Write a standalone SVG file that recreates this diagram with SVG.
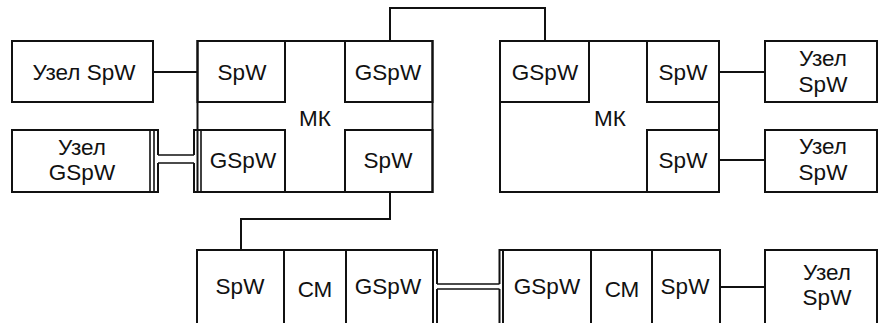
<svg xmlns="http://www.w3.org/2000/svg" width="879" height="323" viewBox="0 0 879 323">
<style>
.b{fill:none;stroke:#111;stroke-width:2}
.p{fill:none;stroke:#111;stroke-width:1.6}
.c{fill:none;stroke:#111;stroke-width:2}
text{font-family:"Liberation Sans",Arial,sans-serif;font-size:22.5px;fill:#111;text-anchor:middle}
</style>
<rect x="0" y="0" width="879" height="323" fill="#fff"/>
<g id="connectors">
<path class="c" d="M153 72H197.5"/>
<path class="c" d="M390 41V8H545V41"/>
<path class="c" d="M390 192V219H241V250"/>
<path class="c" d="M719 72H765"/>
<path class="c" d="M719 160H765"/>
<path class="c" d="M720 287H765"/>
<path class="p" d="M158 155H194M158 163H194"/>
<path class="p" d="M437 284H499.5M437 289H499.5"/>
</g>
<g id="node-uzel-spw-1">
<rect class="b" x="12" y="41" width="141" height="61"/>
<text x="84" y="80">Узел SpW</text>
</g>
<g id="node-uzel-gspw">
<path class="b" d="M158 155V130H12V192H158V163"/>
<path class="p" d="M150 130V192M154 130V192"/>
<text x="82" y="155">Узел</text>
<text x="82" y="180">GSpW</text>
</g>
<g id="node-mk-left">
<rect class="b" x="197.5" y="41" width="235" height="151"/>
<text x="315" y="126">МК</text>
</g>
<g id="port-l-spw-top">
<rect class="b" x="197.5" y="41" width="87.5" height="61"/>
<text x="242" y="80">SpW</text>
</g>
<g id="port-l-gspw-top">
<rect class="b" x="345" y="41" width="87.5" height="61"/>
<text x="388" y="80">GSpW</text>
</g>
<g id="port-l-gspw-bottom">
<path class="b" d="M194 155V130H285V192H194V163"/>
<path class="p" d="M201 130V192"/>
<text x="243" y="168">GSpW</text>
</g>
<g id="port-l-spw-bottom">
<rect class="b" x="345" y="130" width="87.5" height="62"/>
<text x="388" y="168">SpW</text>
</g>
<g id="node-mk-right">
<rect class="b" x="500" y="41" width="219" height="151"/>
<text x="610" y="126">МК</text>
</g>
<g id="port-r-gspw">
<rect class="b" x="500" y="41" width="89" height="61"/>
<text x="545" y="80">GSpW</text>
</g>
<g id="port-r-spw-top">
<rect class="b" x="647" y="41" width="72" height="61"/>
<text x="683" y="80">SpW</text>
</g>
<g id="port-r-spw-bottom">
<rect class="b" x="647" y="130" width="72" height="62"/>
<text x="683" y="168">SpW</text>
</g>
<g id="node-uzel-spw-2">
<rect class="b" x="765" y="41" width="112" height="61"/>
<text x="823" y="66">Узел</text>
<text x="823" y="92">SpW</text>
</g>
<g id="node-uzel-spw-3">
<rect class="b" x="765" y="130" width="112" height="62"/>
<text x="823" y="154">Узел</text>
<text x="823" y="180">SpW</text>
</g>
<g id="node-bottom-left">
<rect class="b" x="197" y="250" width="87" height="90"/>
<text x="240" y="294">SpW</text>
<rect class="b" x="284" y="250" width="62" height="90"/>
<text x="315" y="297">СМ</text>
<path class="b" d="M346 250H437V284M437 289V340"/>
<path class="b" d="M433 250V340"/>
<rect class="b" x="346" y="250" width="87" height="90"/>
<text x="388" y="294">GSpW</text>
</g>
<g id="node-bottom-right">
<path class="b" d="M499.5 284V250H591M499.5 289V340"/>
<rect class="b" x="503" y="250" width="88" height="90"/>
<text x="547" y="294">GSpW</text>
<rect class="b" x="591" y="250" width="61" height="90"/>
<text x="622" y="297">СМ</text>
<rect class="b" x="652" y="250" width="68" height="90"/>
<text x="685" y="294">SpW</text>
</g>
<g id="node-uzel-spw-4">
<rect class="b" x="765" y="250" width="112" height="90"/>
<text x="827" y="280">Узел</text>
<text x="827" y="305">SpW</text>
</g>
</svg>
